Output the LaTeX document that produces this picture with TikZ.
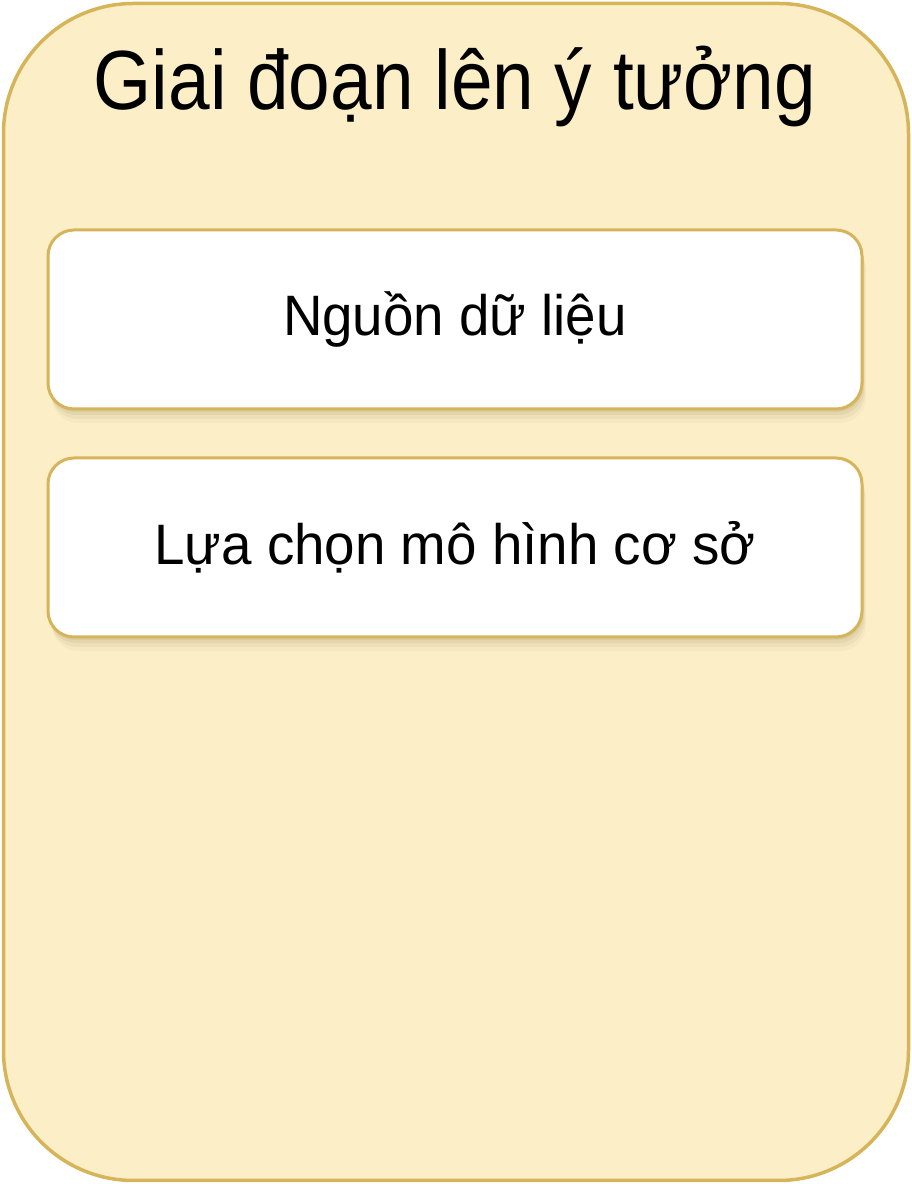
\documentclass[tikz,border=0pt]{standalone}
\usepackage{fontspec}
\setmainfont{Liberation Sans}
\usepackage{tikz}
\usetikzlibrary{shapes, positioning, shadows}

\definecolor{stagefill}{HTML}{FCEFC8}
\definecolor{stageline}{HTML}{D5B45A}
\definecolor{shade}{HTML}{6B5520}

\begin{document}
\begin{tikzpicture}[x=1pt, y=1pt, node distance=46pt,
    soft shadow/.style={
        drop shadow={shadow xshift=1pt, shadow yshift=-3pt, opacity=0.07, fill=shade},
        drop shadow={shadow xshift=2pt, shadow yshift=-6pt, opacity=0.07, fill=shade},
        drop shadow={shadow xshift=3pt, shadow yshift=-10pt, opacity=0.06, fill=shade},
        drop shadow={shadow xshift=4pt, shadow yshift=-14pt, opacity=0.04, fill=shade}},
    item/.style={draw=stageline, line width=3pt, fill=white, rounded corners=26pt,
        minimum width=814pt, minimum height=179pt, font=\fontsize{57}{64}\selectfont,
        soft shadow}]
        \useasboundingbox (0,0) rectangle (912,1184);
        \node[draw=stageline, line width=3.5pt, fill=stagefill, rounded corners=130pt,
            minimum width=905pt, minimum height=1177pt] (stage) at (456,592) {};
        \node[anchor=base, font=\fontsize{84}{90}\selectfont] (title) at (455,1074)
            {\scalebox{0.89}[1]{Giai đoạn lên ý tưởng}};
        \node[item] (source) at (455,864.5) {\scalebox{0.96}[1]{Nguồn dữ liệu}};
        \node[item, below=of source] (model) {\scalebox{0.96}[1]{Lựa chọn mô hình cơ sở}};
    \end{tikzpicture}
\end{document}
